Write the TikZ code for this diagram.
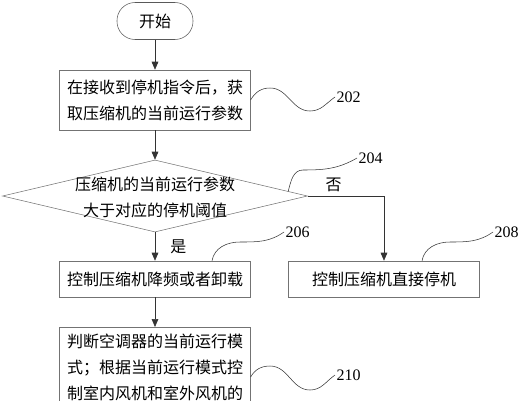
\documentclass[tikz,border=0pt]{standalone}
\usepackage{fontspec}
\setmainfont{Liberation Serif}
\newfontfamily\cjk{Noto Sans CJK SC}
\usetikzlibrary{shapes.geometric,arrows.meta}

\begin{document}
\begin{tikzpicture}[x=0.75pt,y=-0.75pt,
        stepbox/.style={draw=black!55, minimum width=143pt, inner sep=5pt, font=\cjk\fontsize{12}{19.5}\selectfont},
        termbox/.style={draw=black!65, rounded corners=13.5pt, minimum width=57pt, minimum height=27.75pt, font=\cjk\fontsize{12}{14}\selectfont},
        decbox/.style={draw=black!55, diamond, inner sep=0pt, minimum width=228.75pt, minimum height=54pt},
        cjklabel/.style={font=\cjk\fontsize{12}{19.5}\selectfont},
        flow/.style={draw=black!80, -{Triangle[length=6pt,width=5pt]}},
        wave/.style={draw=black!80},
        tag/.style={font=\fontsize{12}{14}\selectfont, inner sep=1pt, anchor=west}]
        \useasboundingbox (0,0) rectangle (520,400);
        \clip (0,0) rectangle (520,400);

        \node[termbox] (start) at (155,21) {开始};
        \node[stepbox, minimum height=45pt, align=left] (s202) at (155,100) {在接收到停机指令后，获\\取压缩机的当前运行参数};
        \node[decbox] (d204) at (155,196) {};
        \node[cjklabel, align=center] (t204) at (155,197) {压缩机的当前运行参数\\大于对应的停机阈值};
        \node[stepbox, minimum height=27pt] (s206) at (155,279) {控制压缩机降频或者卸载};
        \node[stepbox, minimum height=27pt] (s208) at (384,279) {控制压缩机直接停机};
        \node[stepbox, anchor=north, align=left] (s210) at (155,327) {判断空调器的当前运行模\\式；根据当前运行模式控\\制室内风机和室外风机的};

        \draw[flow] (start) -- (s202);
        \draw[flow] (s202) -- (d204);
        \draw[flow] (d204) -- (s206) node[midway, right=8pt, cjklabel]{是};
        \draw[flow] (d204.east) -| (s208) node[pos=0.17, above, cjklabel]{否};
        \draw[flow] (s206) -- (s210);

        \node[tag] (n202) at (335,97) {202};
        \node[tag] (n204) at (357,158) {204};
        \node[tag] (n206) at (284,232) {206};
        \node[tag] (n208) at (493,232) {208};
        \node[tag] (n210) at (335,375) {210};

        \draw[wave] (s202.east) to[out=60,in=180] (270,88) to[out=0,in=180] (310,111) to[out=0,in=215] (n202.west);
        \draw[wave] (d204.2) to[out=75,in=180] (303,170) to[out=0,in=210] (n204.west);
        \draw[wave] ([xshift=42.75pt]s206.north) to[out=80,in=180] (240,242) to[out=0,in=215] (n206.west);
        \draw[wave] ([xshift=28.5pt]s208.north) to[out=80,in=180] (450,242) to[out=0,in=215] (n208.west);
        \draw[wave] ([yshift=-37.5pt]s210.north east) to[out=60,in=180] (270,366) to[out=0,in=180] (310,390) to[out=0,in=215] (n210.west);
\end{tikzpicture}
\end{document}
